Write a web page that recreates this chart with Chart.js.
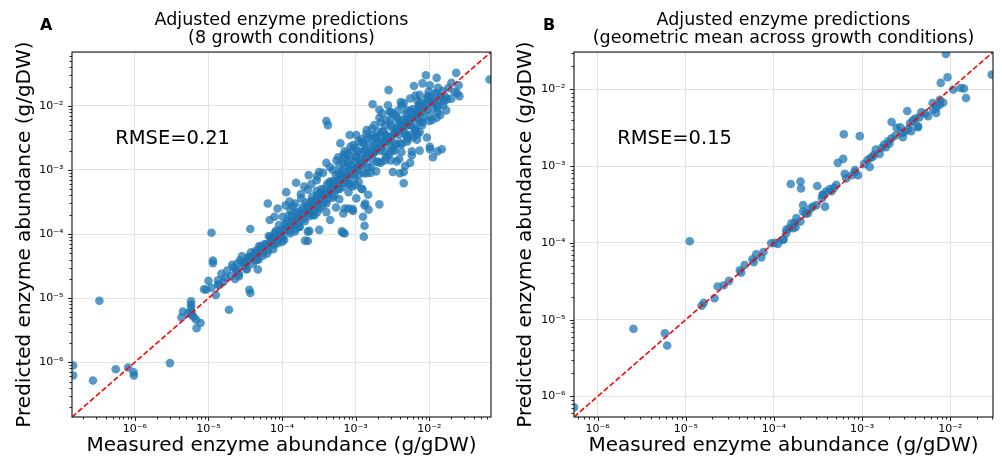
<!DOCTYPE html>
<html>
<head>
<meta charset="utf-8">
<script src="https://cdn.jsdelivr.net/npm/chart.js@4.4.0/dist/chart.umd.min.js"></script>
<style>
  html, body { margin: 0; padding: 0; background: #fff; }
  #wrap { position: relative; width: 1002px; height: 460px; }
  .panel { position: absolute; top: 0; width: 501px; height: 460px; }
</style>
</head>
<body>
<div id="wrap">
  <div class="panel" style="left:0"><canvas id="chartA" width="501" height="460"></canvas></div>
  <div class="panel" style="left:501px"><canvas id="chartB" width="501" height="460"></canvas></div>
</div>
<script>
// --- data (measured, predicted) in g/gDW ---
const tickExps = [-6, -5, -4, -3, -2];
const tickLabels = ['10⁻⁶', '10⁻⁵', '10⁻⁴', '10⁻³', '10⁻²'];

const rangeA = [1.4e-7, 6.9e-2];
const rangeB = [5.4e-7, 3.05e-2];

const titleA = ['Adjusted enzyme predictions', '(8 growth conditions)'];
const titleB = ['Adjusted enzyme predictions', '(geometric mean across growth conditions)'];
const rmseA = 'RMSE=0.21';
const rmseB = 'RMSE=0.15';

const pointsA = [
  [1.45e-7, 8.9e-7], [1.45e-7, 6.2e-7], [2.7e-7, 5.2e-7], [3.3e-7, 9.1e-6], [5.5e-7, 7.8e-7],
  [8.1e-7, 8.3e-7], [9.6e-7, 7.0e-7], [9.7e-7, 6.2e-7], [3.0e-6, 9.7e-7],
  [5.8e-6, 8.9e-6], [5.8e-6, 7.9e-6], [5.8e-6, 7.0e-6], [5.9e-6, 6.1e-6], [4.5e-6, 6.2e-6],
  [4.3e-6, 5.0e-6], [5.9e-6, 5.5e-6], [6.8e-6, 4.6e-6], [6.9e-6, 3.4e-6], [7.8e-6, 4.1e-6],
  [6.3e-6, 5.1e-6], [5.3e-6, 5.8e-6],
  [8.7e-6, 1.38e-5], [9.3e-6, 1.35e-5], [1.0e-5, 1.86e-5], [1.1e-5, 1.05e-4], [1.15e-5, 3.85e-5],
  [1.15e-5, 3.5e-5], [1.9e-5, 6.6e-6], [3.6e-5, 1.35e-5], [3.7e-5, 1.2e-5], [3.7e-5, 1.2e-4],
  [1.26e-5, 1.12e-5], [1.35e-5, 1.62e-5], [1.1e-5, 1.45e-5], [1.4e-5, 1.6e-5], [1.35e-5, 1.9e-5],
  [1.6e-5, 1.8e-5], [1.7e-5, 2.1e-5], [1.5e-5, 2.4e-5], [2.0e-5, 2.2e-5], [2.1e-5, 3.3e-5],
  [2.2e-5, 3.0e-5], [2.4e-5, 2.6e-5], [2.6e-5, 2.4e-5], [2.5e-5, 3.5e-5], [2.85e-5, 4.5e-5],
  [3.0e-5, 3.2e-5], [3.3e-5, 2.9e-5], [3.5e-5, 4.2e-5], [4.7e-5, 2.8e-5], [4.0e-5, 4.5e-5],
  [4.4e-5, 5.5e-5], [3.8e-5, 5.2e-5], [4.8e-5, 4.0e-5], [1.8e-5, 2.7e-5], [2.3e-5, 2.0e-5],
  [2.7e-5, 3.9e-5], [3.2e-5, 3.7e-5],
  [6.7e-4, 1.05e-4], [7.1e-4, 1.02e-4], [1.29e-3, 9.1e-5], [2.24e-4, 7.8e-5], [2.05e-4, 7.9e-5],
  [3.2e-4, 1.16e-4], [2.24e-4, 1.09e-4], [6.4e-5, 3.0e-4], [1.14e-4, 4.5e-4], [1.12e-4, 2.8e-4],
  [1.24e-3, 5.0e-4], [1.48e-3, 4.1e-4], [1.35e-3, 3.0e-4], [1.5e-3, 2.4e-4], [9.2e-4, 2.3e-4],
  [8.0e-4, 2.5e-4], [2.1e-3, 2.9e-4], [4.5e-3, 6.2e-4], [4.0e-3, 8.9e-4], [3.2e-3, 9.3e-4],
  [4.7e-3, 1.15e-3], [7.4e-3, 2.0e-3],
  [0.066, 0.0258], [0.0232, 0.0327], [9.0e-3, 0.030], [0.0126, 0.0273], [6.2e-3, 0.0204],
  [2.8e-3, 0.0176], [1.7e-3, 0.0106], [4.0e-4, 5.8e-3], [4.2e-4, 5.0e-3], [0.0148, 2.1e-3],
  [0.0102, 2.3e-3], [0.0112, 1.58e-3],
  [0.0251, 0.0209], [0.0257, 0.0141], [8.1e-3, 0.0224], [0.0102, 0.0209], [9.8e-3, 0.0166],
  [6.5e-3, 0.0145], [7.4e-3, 0.0148], [0.0132, 0.0191], [0.0174, 0.0126], [0.020, 0.0129],
  [0.024, 0.0158], [0.0155, 0.0102], [2.1e-3, 8.7e-3], [2.9e-3, 8.1e-3], [3.2e-3, 7.6e-3],
  [4.1e-3, 0.0115], [5.0e-3, 8.5e-3], [6.9e-3, 0.012], [7.1e-3, 9.8e-3], [9.3e-3, 0.0129],
  [0.0115, 0.0115], [0.0129, 9.5e-3], [0.0141, 7.2e-3], [0.0126, 6.5e-3], [0.010, 5.8e-3],
  [0.017, 8.5e-3], [6.2e-4, 2.6e-3], [7.1e-4, 1.95e-3], [9.3e-4, 2.45e-3], [1.07e-3, 1.95e-3],
  [1.23e-3, 2.7e-3], [1.41e-3, 4.2e-3], [1.66e-3, 4.4e-3], [2.1e-3, 6.5e-3], [2.3e-3, 7.6e-3],
  [2.75e-3, 0.0102], [4.2e-3, 0.0102], [3.9e-3, 5.5e-3], [5.2e-3, 6.3e-3], [5.6e-3, 5.0e-3],
  [7.4e-3, 3.9e-3], [7.4e-3, 5.5e-3], [9.3e-3, 3.2e-3], [0.0102, 2.1e-3], [0.0129, 1.95e-3],
  [5.0e-3, 2.75e-3], [5.8e-3, 1.7e-3], [4.2e-3, 1.9e-3], [3.5e-3, 2.45e-3], [2.95e-3, 1.9e-3],
  [3.9e-3, 1.48e-3], [5.5e-3, 3.5e-3], [1.48e-3, 3.2e-3], [1.9e-3, 3.1e-3], [2.3e-3, 3.9e-3],
  [1.02e-3, 3.5e-3], [8.3e-4, 3.5e-3], [6.8e-4, 1.7e-3],
  [3.2e-4, 9.3e-4], [4.0e-4, 1.29e-3], [5.8e-4, 1.58e-3], [7.6e-4, 1.82e-3], [2.3e-4, 8.3e-4],
  [1.55e-4, 6.3e-4], [2.0e-4, 5.5e-4], [7.9e-5, 1.86e-4], [1.02e-4, 1.86e-4], [1.41e-4, 2.7e-4],
  [1.82e-4, 3.6e-4], [2.24e-4, 4.9e-4], [2.95e-4, 6.9e-4], [4.9e-4, 1.0e-3], [6.8e-4, 1.26e-3],
  [1.02e-3, 1.62e-3], [1.41e-3, 2.0e-3], [1.9e-3, 2.6e-3], [2.6e-3, 3.3e-3], [3.6e-3, 4.2e-3],
  [4.5e-3, 5.0e-3], [4.9e-3, 3.5e-3], [1.15e-3, 1.2e-3], [1.41e-3, 8.9e-4], [8.3e-4, 1.0e-3],
  [7.4e-4, 6.9e-4], [6.0e-4, 8.3e-4], [4.5e-4, 6.6e-4], [3.4e-4, 4.4e-4], [2.6e-4, 3.2e-4],
  [5.5e-4, 4.9e-4], [1.2e-3, 5.1e-4], [1.32e-3, 2.8e-4], [4.5e-3, 9.3e-4], [3.6e-3, 1.35e-3],
  [5.5e-3, 1.29e-3], [5.8e-3, 1.95e-3], [6.8e-3, 2.95e-3], [1.02e-3, 3.6e-4], [7.1e-4, 2.5e-4],
  [9.1e-4, 2.45e-4], [1.26e-3, 1.86e-4], [1.32e-3, 1.35e-4], [1.26e-4, 3.2e-4], [8.7e-5, 2.5e-4],
  [6.8e-5, 1.66e-4], [8.3e-5, 1.12e-4], [1.07e-4, 1.15e-4], [2.35e-4, 1.12e-4], [6.5e-4, 1.1e-4],
  [4.5e-4, 1.66e-4], [5.4e-4, 2.6e-4], [6.8e-4, 2.1e-4],
  [3.8e-5, 4.4e-5], [4.4e-5, 3.9e-5], [4.9e-5, 6.5e-5], [5.4e-5, 5.1e-5], [5.8e-5, 6.9e-5],
  [6.3e-5, 5.0e-5], [6.6e-5, 9.3e-5], [7.1e-5, 7.4e-5], [7.6e-5, 5.8e-5], [7.9e-5, 1.0e-4],
  [8.5e-5, 7.8e-5], [9.1e-5, 1.38e-4], [9.5e-5, 1.07e-4], [1.02e-4, 8.5e-5], [1.1e-4, 1.45e-4],
  [1.15e-4, 1.15e-4], [1.23e-4, 1.95e-4], [1.29e-4, 1.02e-4], [1.38e-4, 1.62e-4], [1.48e-4, 1.38e-4],
  [1.55e-4, 2.1e-4], [1.66e-4, 1.78e-4], [1.74e-4, 1.29e-4], [1.86e-4, 2.3e-4], [1.95e-4, 1.74e-4],
  [2.1e-4, 3.1e-4], [2.2e-4, 2.24e-4], [2.35e-4, 1.9e-4], [2.45e-4, 3.2e-4], [2.6e-4, 2.9e-4],
  [2.75e-4, 1.95e-4], [2.95e-4, 4.7e-4], [3.1e-4, 2.95e-4], [3.3e-4, 4.0e-4], [3.5e-4, 2.75e-4],
  [3.7e-4, 5.0e-4], [3.9e-4, 4.1e-4], [4.2e-4, 3.5e-4], [4.4e-4, 6.3e-4], [4.7e-4, 5.2e-4],
  [4.9e-4, 3.7e-4], [5.2e-4, 6.6e-4], [5.5e-4, 5.1e-4], [5.9e-4, 9.1e-4], [6.2e-4, 7.1e-4],
  [6.6e-4, 5.4e-4], [6.9e-4, 9.1e-4], [7.4e-4, 7.4e-4], [7.8e-4, 1.29e-3], [8.3e-4, 6.0e-4],
  [8.7e-4, 1.02e-3], [9.3e-4, 8.5e-4], [9.8e-4, 1.38e-3], [1.05e-3, 1.12e-3], [1.1e-3, 8.5e-4],
  [1.17e-3, 1.48e-3], [1.23e-3, 1.17e-3], [1.32e-3, 2.0e-3], [1.38e-3, 1.55e-3], [1.48e-3, 1.1e-3],
  [1.55e-3, 1.9e-3], [1.66e-3, 1.48e-3], [1.74e-3, 2.4e-3], [1.86e-3, 1.95e-3], [1.95e-3, 1.35e-3],
  [2.1e-3, 3.4e-3], [2.2e-3, 2.0e-3], [2.35e-3, 2.8e-3], [2.45e-3, 1.95e-3], [2.6e-3, 3.5e-3],
  [2.75e-3, 2.8e-3], [2.95e-3, 2.45e-3], [3.1e-3, 4.6e-3], [3.3e-3, 3.6e-3], [3.5e-3, 2.6e-3],
  [3.7e-3, 4.7e-3], [3.9e-3, 3.5e-3], [4.2e-3, 5.9e-3], [4.4e-3, 4.6e-3], [4.7e-3, 3.7e-3],
  [4.9e-3, 6.3e-3], [5.2e-3, 5.0e-3], [5.5e-3, 8.3e-3], [5.9e-3, 6.6e-3], [6.2e-3, 4.6e-3],
  [6.6e-3, 7.9e-3], [6.9e-3, 6.2e-3], [7.4e-3, 0.010], [7.8e-3, 7.8e-3], [8.3e-3, 6.5e-3],
  [8.7e-3, 0.0107], [9.3e-3, 8.7e-3], [0.010, 0.0138], [0.0107, 0.0112], [0.0115, 9.1e-3],
  [0.0126, 0.0151], [0.0138, 0.0126], [0.0151, 0.017], [0.0166, 0.0138],
  [4.7e-5, 5.4e-5], [7.2e-5, 8.7e-5], [1.0e-4, 9.1e-5], [1.2e-4, 1.38e-4], [1.45e-4, 1.58e-4],
  [1.82e-4, 2.1e-4], [2.3e-4, 2.5e-4], [2.9e-4, 3.5e-4], [3.6e-4, 4.2e-4], [4.6e-4, 5.0e-4],
  [5.8e-4, 6.9e-4], [7.2e-4, 7.9e-4], [9.1e-4, 1.1e-3], [1.15e-3, 1.26e-3], [1.45e-3, 1.66e-3],
  [1.82e-3, 2.0e-3], [2.3e-3, 2.6e-3], [2.9e-3, 3.2e-3], [3.6e-3, 4.0e-3], [4.6e-3, 5.0e-3],
  [5.8e-3, 6.6e-3], [7.2e-3, 7.9e-3], [9.1e-3, 0.0105],
  [6.0e-4, 1.2e-3], [8.0e-4, 1.7e-3], [1.0e-3, 2.2e-3], [1.3e-3, 2.5e-3], [1.6e-3, 3.2e-3],
  [2.0e-3, 4.0e-3], [2.5e-3, 5.0e-3], [3.0e-3, 6.0e-3], [3.5e-3, 7.0e-3], [1.2e-3, 3.0e-3],
  [9.0e-4, 2.0e-3], [1.8e-3, 5.0e-3],
  [1.6e-3, 9.0e-4], [2.2e-3, 1.3e-3], [2.8e-3, 1.7e-3], [3.4e-3, 2.0e-3], [4.2e-3, 2.5e-3],
  [5.0e-3, 3.0e-3], [6.5e-3, 4.0e-3], [8.0e-3, 5.0e-3], [1.1e-3, 6.5e-4], [9.0e-4, 5.5e-4],
  [2.6e-4, 2.0e-4], [4.0e-4, 3.0e-4], [1.5e-4, 1.1e-4],
  [2.4e-5, 2.8e-5], [2.6e-5, 2.2e-5], [3.0e-5, 3.6e-5], [3.3e-5, 2.8e-5], [3.5e-5, 4.4e-5],
  [4.0e-5, 3.4e-5], [4.3e-5, 5.0e-5], [4.6e-5, 4.0e-5], [5.1e-5, 6.3e-5], [5.5e-5, 4.6e-5],
  [6.0e-5, 6.9e-5], [6.5e-5, 5.6e-5], [6.9e-5, 8.9e-5], [7.8e-5, 6.8e-5], [8.1e-5, 1.07e-4],
  [8.7e-5, 7.2e-5], [9.8e-5, 1.17e-4], [1.07e-4, 8.1e-5], [1.17e-4, 1.58e-4], [1.26e-4, 1.12e-4],
  [1.35e-4, 1.9e-4], [1.51e-4, 1.2e-4], [1.62e-4, 2.2e-4], [1.7e-4, 1.51e-4], [1.9e-4, 2.6e-4],
  [2.04e-4, 1.58e-4], [2.14e-4, 2.75e-4], [2.4e-4, 2.1e-4], [2.57e-4, 3.8e-4], [2.7e-4, 2.35e-4],
  [3.0e-4, 4.0e-4], [3.2e-4, 2.5e-4], [3.4e-4, 5.0e-4], [3.8e-4, 3.2e-4], [4.1e-4, 6.0e-4],
  [4.3e-4, 4.2e-4], [4.8e-4, 6.6e-4], [5.1e-4, 4.0e-4], [5.4e-4, 8.3e-4], [6.0e-4, 5.0e-4],
  [6.5e-4, 9.5e-4], [6.8e-4, 6.3e-4], [7.6e-4, 1.12e-3], [8.1e-4, 6.0e-4], [8.5e-4, 1.41e-3],
  [9.5e-4, 7.6e-4], [1.02e-3, 1.58e-3], [1.07e-3, 1.0e-3], [1.2e-3, 1.9e-3], [1.29e-3, 8.9e-4],
  [1.35e-3, 1.51e-3], [1.51e-3, 2.5e-3], [1.62e-3, 1.12e-3], [1.7e-3, 1.82e-3], [1.9e-3, 3.2e-3],
  [2.04e-3, 1.32e-3], [2.14e-3, 2.4e-3], [2.4e-3, 4.0e-3], [2.57e-3, 1.58e-3], [2.7e-3, 3.0e-3],
  [3.0e-3, 5.0e-3], [3.2e-3, 2.1e-3], [3.4e-3, 3.8e-3], [3.8e-3, 6.3e-3], [4.1e-3, 2.6e-3],
  [4.3e-3, 4.8e-3], [4.8e-3, 7.6e-3], [5.1e-3, 3.3e-3], [5.4e-3, 5.8e-3], [6.0e-3, 8.9e-3],
  [6.5e-3, 4.2e-3], [6.8e-3, 7.2e-3], [7.6e-3, 0.0112], [8.1e-3, 5.6e-3], [8.5e-3, 9.1e-3],
  [9.5e-3, 0.0141], [0.0102, 7.1e-3], [0.011, 0.012], [0.012, 0.0158], [0.0132, 0.010],
  [0.0145, 0.0138], [0.0158, 0.012], [0.0182, 0.019], [0.020, 0.0229], [0.0219, 0.0166],
  [3.2e-5, 3.4e-5], [3.6e-5, 4.0e-5], [4.2e-5, 4.4e-5], [4.8e-5, 5.2e-5], [5.5e-5, 6.0e-5],
  [6.3e-5, 6.6e-5], [7.2e-5, 7.9e-5], [8.3e-5, 9.1e-5], [9.5e-5, 1.0e-4], [1.1e-4, 1.2e-4],
  [1.26e-4, 1.35e-4], [1.45e-4, 1.51e-4], [1.66e-4, 1.82e-4], [1.9e-4, 2.0e-4], [2.2e-4, 2.4e-4],
  [2.5e-4, 2.6e-4], [2.9e-4, 3.2e-4], [3.3e-4, 3.5e-4], [3.8e-4, 4.2e-4], [4.4e-4, 4.6e-4],
  [5.0e-4, 5.5e-4], [5.8e-4, 6.0e-4], [6.6e-4, 7.2e-4], [7.6e-4, 7.9e-4], [8.7e-4, 9.5e-4],
  [1.0e-3, 1.05e-3], [1.17e-3, 1.26e-3], [1.32e-3, 1.38e-3], [1.51e-3, 1.66e-3], [1.74e-3, 1.82e-3],
  [2.0e-3, 2.2e-3], [2.3e-3, 2.4e-3], [2.6e-3, 2.9e-3], [3.0e-3, 3.2e-3], [3.5e-3, 3.8e-3],
  [4.0e-3, 4.2e-3], [4.6e-3, 4.8e-3], [5.2e-3, 5.5e-3], [6.0e-3, 6.6e-3],
  [2.5e-4, 6.0e-4], [3.0e-4, 8.0e-4], [3.6e-4, 9.0e-4], [4.5e-4, 1.1e-3], [5.5e-4, 1.4e-3],
  [7.0e-4, 1.5e-3], [8.5e-4, 2.3e-3], [1.1e-3, 2.8e-3], [1.4e-3, 3.6e-3], [1.7e-3, 3.4e-3],
  [2.2e-3, 5.5e-3], [2.6e-3, 6.0e-3], [3.0e-3, 8.0e-3], [3.8e-3, 8.5e-3], [4.5e-3, 0.011],
  [5.5e-3, 0.013], [1.5e-4, 3.0e-4], [1.8e-4, 4.2e-4], [1.3e-4, 2.4e-4],
  [4.0e-4, 2.2e-4], [6.0e-4, 3.5e-4], [8.0e-4, 4.5e-4], [1.0e-3, 5.8e-4], [1.9e-3, 9.5e-4],
  [2.5e-3, 1.4e-3], [3.0e-3, 1.4e-3], [6.0e-3, 3.2e-3], [7.0e-3, 3.6e-3], [0.011, 6.0e-3],
  [0.013, 8.0e-3], [3.0e-4, 2.2e-4], [1.7e-4, 1.3e-4], [1.0e-4, 7.5e-5]
];

const pointsB = [
  [5.4e-7, 7.2e-7], [2.55e-6, 7.6e-6], [5.8e-6, 6.65e-6], [6.15e-6, 4.6e-6], [1.11e-5, 1.05e-4],
  [1.51e-5, 1.52e-5], [1.6e-5, 1.66e-5], [2.12e-5, 1.9e-5], [2.3e-5, 2.7e-5], [2.7e-5, 2.8e-5],
  [3.1e-5, 3.2e-5], [4.1e-5, 4.4e-5], [4.25e-5, 4.1e-5], [4.65e-5, 5.15e-5], [5.7e-5, 6.1e-5],
  [5.9e-5, 5.6e-5], [6.3e-5, 7.1e-5], [7.2e-5, 6.45e-5], [7.6e-5, 7.6e-5], [9.3e-5, 9.9e-5],
  [1.02e-4, 1.0e-4], [1.11e-4, 9.7e-5], [1.29e-4, 1.11e-4], [1.38e-4, 1.33e-4], [1.48e-4, 1.55e-4],
  [1.64e-4, 1.55e-4], [1.72e-4, 1.8e-4], [1.76e-4, 1.6e-4], [1.26e-4, 1.09e-4], [1.38e-4, 1.48e-4],
  [1.58e-4, 1.8e-4], [1.8e-4, 2.1e-4], [2.14e-4, 2.55e-4], [2.14e-4, 3.1e-4], [2.43e-4, 2.43e-4],
  [2.77e-4, 2.96e-4], [3.03e-4, 3.1e-4], [3.5e-4, 3.8e-4], [3.8e-4, 2.96e-4], [3.55e-4, 4.2e-4],
  [3.9e-4, 4.65e-4], [4.3e-4, 5.0e-4], [5.1e-4, 5.7e-4], [1.55e-4, 5.85e-4], [2.0e-4, 6.3e-4],
  [2.03e-4, 5.1e-4], [3.1e-4, 5.5e-4], [5.3e-4, 1.1e-3], [3.6e-4, 4.25e-4], [6.2e-4, 2.6e-3],
  [6.1e-4, 1.24e-3], [6.35e-4, 7.9e-4], [8.3e-4, 8.3e-4], [9.0e-4, 7.6e-4], [9.4e-4, 2.45e-3],
  [1.05e-3, 1.06e-3], [1.22e-3, 9.7e-4], [1.24e-3, 1.27e-3], [1.36e-3, 1.4e-3], [1.43e-3, 1.64e-3],
  [1.58e-3, 1.44e-3], [1.66e-3, 1.72e-3], [1.86e-3, 1.76e-3], [1.97e-3, 2.1e-3], [2.16e-3, 2.3e-3],
  [2.16e-3, 3.75e-3], [2.46e-3, 3.15e-3], [2.7e-3, 3.2e-3], [2.9e-3, 2.37e-3], [2.8e-3, 2.7e-3],
  [3.06e-3, 2.8e-3], [3.3e-3, 3.0e-3], [3.6e-3, 2.85e-3], [3.25e-3, 5.2e-3], [3.75e-3, 3.9e-3],
  [4.0e-3, 4.15e-3], [4.45e-3, 4.3e-3], [4.3e-3, 3.3e-3], [5.6e-3, 4.45e-3], [6.4e-3, 5.4e-3],
  [6.9e-3, 4.9e-3], [7.0e-3, 5.8e-3], [7.6e-3, 6.3e-3], [7.6e-3, 7.3e-3], [7.8e-3, 0.0121],
  [9.3e-3, 0.0143], [8.9e-3, 0.0288], [0.0108, 9.9e-3], [0.0131, 0.0104], [0.0143, 0.0102],
  [0.0151, 7.7e-3], [0.0295, 0.0155], [8.3e-3, 6.7e-3], [4.3e-3, 3.2e-3],
  [4.5e-4, 4.7e-4], [4.8e-4, 5.2e-4], [6.6e-4, 6.9e-4], [7.6e-4, 7.6e-4], [8.3e-4, 8.9e-4],
  [1.15e-3, 1.2e-3], [1.32e-3, 1.32e-3], [1.78e-3, 1.9e-3], [2.04e-3, 1.95e-3], [2.4e-3, 2.5e-3],
  [3.5e-3, 3.6e-3], [4.7e-3, 5.0e-3], [5.2e-3, 4.8e-3], [6.3e-3, 6.6e-3], [2.6e-4, 2.8e-4],
  [2.3e-4, 2.4e-4], [2.0e-4, 1.9e-4]
];

// --- styling ---
const FONT = "'DejaVu Sans', sans-serif";
const pointColor = 'rgba(31, 119, 180, 0.75)';
const gridColor = '#e3e3e3';
const frameColor = '#222';

// major ticks at each decade, minor ticks at 2..9 (matplotlib style)
function buildLogTicks(scale) {
    const ticks = [];
    for (let e = -8; e <= 0; e++) {
        for (let m = 1; m <= 9; m++) {
            const v = m * Math.pow(10, e);
            if (v >= scale.min * 0.9999 && v <= scale.max * 1.0001) {
                ticks.push({ value: v, major: m === 1 });
            }
        }
    }
    scale.ticks = ticks;
}

function tickLabel(value, index, ticks) {
    if (!ticks[index] || !ticks[index].major) return '';
    const i = tickExps.indexOf(Math.round(Math.log10(value)));
    return i >= 0 ? tickLabels[i] : '';
}

// frame, tick marks, panel letter and RMSE annotation
const decorations = {
    id: 'decorations',
    afterDraw(chart, args, opts) {
        const { ctx, chartArea: a, scales } = chart;
        ctx.save();
        ctx.strokeStyle = frameColor;
        ctx.lineWidth = 1;
        ctx.beginPath();
        scales.x.ticks.forEach(t => {
            const px = Math.round(scales.x.getPixelForValue(t.value)) + 0.5;
            ctx.moveTo(px, a.bottom);
            ctx.lineTo(px, a.bottom + (t.major ? 4 : 2.5));
        });
        scales.y.ticks.forEach(t => {
            const py = Math.round(scales.y.getPixelForValue(t.value)) + 0.5;
            ctx.moveTo(a.left, py);
            ctx.lineTo(a.left - (t.major ? 4 : 2.5), py);
        });
        ctx.stroke();
        ctx.lineWidth = 1.2;
        ctx.strokeRect(a.left, a.top, a.right - a.left, a.bottom - a.top);

        ctx.fillStyle = '#000';
        ctx.textAlign = 'left';
        ctx.textBaseline = 'alphabetic';
        ctx.font = 'bold 16px ' + FONT;
        ctx.fillText(opts.letter, opts.letterX, 30);
        ctx.font = '19.5px ' + FONT;
        ctx.fillText(opts.rmse, a.left + 0.103 * (a.right - a.left), a.top + 0.252 * (a.bottom - a.top));
        ctx.restore();
    }
};

function makePanel(canvasId, points, range, title, rmse, letter, letterX, yWidth, rightPad) {
    const ctx = document.getElementById(canvasId).getContext('2d');
    return new Chart(ctx, {
        type: 'scatter',
        data: {
            datasets: [{
                // identity line y = x across the axis range
                data: [{ x: range[0], y: range[0] }, { x: range[1], y: range[1] }],
                showLine: true,
                borderColor: '#ff0000',
                borderWidth: 1.6,
                borderDash: [5.5, 2.4],
                pointRadius: 0,
                order: 0
            }, {
                data: points.map(p => ({ x: p[0], y: p[1] })),
                backgroundColor: pointColor,
                borderWidth: 0,
                pointRadius: 4.3,
                order: 1
            }]
        },
        options: {
            responsive: false,
            animation: false,
            devicePixelRatio: 1,
            events: [],
            layout: { padding: { left: 0, right: rightPad, top: 0, bottom: 0 } },
            plugins: {
                legend: { display: false },
                tooltip: { enabled: false },
                title: {
                    display: true,
                    text: title,
                    fullSize: false,
                    color: '#000',
                    font: { family: FONT, size: 17.5, weight: 'normal', lineHeight: 1.07 },
                    padding: { top: 10.6, bottom: 4 }
                },
                decorations: { letter: letter, letterX: letterX, rmse: rmse }
            },
            scales: {
                x: {
                    type: 'logarithmic',
                    min: range[0],
                    max: range[1],
                    afterBuildTicks: buildLogTicks,
                    afterFit: s => { s.height = 43; },
                    grid: {
                        drawTicks: false,
                        color: c => (c.tick && c.tick.major) ? gridColor : 'rgba(0,0,0,0)'
                    },
                    border: { display: false },
                    ticks: {
                        autoSkip: false, maxRotation: 0, padding: 6,
                        color: '#000', font: { family: FONT, size: 11 },
                        callback: tickLabel
                    },
                    title: {
                        display: true,
                        text: 'Measured enzyme abundance (g/gDW)',
                        color: '#000',
                        font: { family: FONT, size: 20 },
                        padding: { top: 0, bottom: 2 }
                    }
                },
                y: {
                    type: 'logarithmic',
                    min: range[0],
                    max: range[1],
                    afterBuildTicks: buildLogTicks,
                    afterFit: s => { s.width = yWidth; },
                    grid: {
                        drawTicks: false,
                        color: c => (c.tick && c.tick.major) ? gridColor : 'rgba(0,0,0,0)'
                    },
                    border: { display: false },
                    ticks: {
                        autoSkip: false, padding: 8.5,
                        color: '#000', font: { family: FONT, size: 11 },
                        callback: tickLabel
                    },
                    title: {
                        display: true,
                        text: 'Predicted enzyme abundance (g/gDW)',
                        color: '#000',
                        font: { family: FONT, size: 20 },
                        padding: { top: 12.5, bottom: 0 }
                    }
                }
            }
        },
        plugins: [decorations]
    });
}

makePanel('chartA', pointsA, rangeA, titleA, rmseA, 'A', 40, 72, 10);
makePanel('chartB', pointsB, rangeB, titleB, rmseB, 'B', 42, 73, 9);
</script>
</body>
</html>
